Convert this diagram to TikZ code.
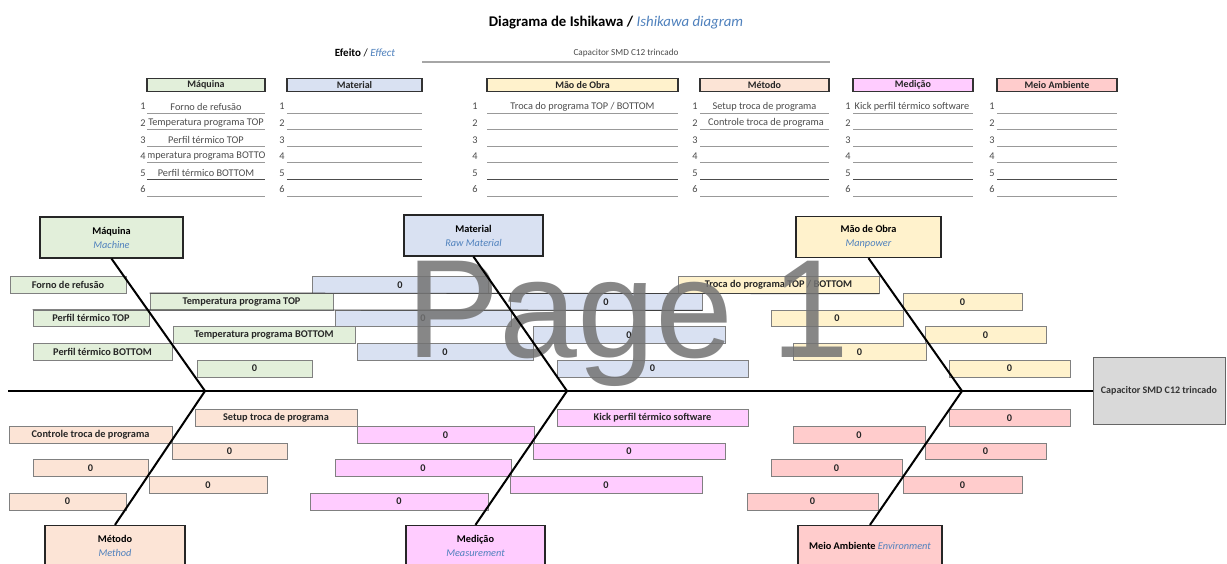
\documentclass[tikz,border=0pt]{standalone}
\usepackage{fontspec}
\setmainfont{Carlito}
\newfontfamily\wmfont{Liberation Sans}
\definecolor{cgreen}{HTML}{E2EFDA}
\definecolor{cblue}{HTML}{D9E1F2}
\definecolor{cyellow}{HTML}{FFF2CC}
\definecolor{cpeach}{HTML}{FCE4D6}
\definecolor{cviolet}{HTML}{FFCCFF}
\definecolor{csalmon}{HTML}{FFCCCC}
\definecolor{chead}{HTML}{D9D9D9}
\definecolor{engblue}{HTML}{4F81BD}
\newcommand\causebox[6]{\node[cause, fill=#2, minimum width={(#4-#3)*1pt}] (#1) at ({(#3+#4)/2},#5) {#6};}
\begin{document}
\begin{tikzpicture}[x=1pt,y=-1pt,
  cause/.style={draw=black!50, line width=0.6pt, inner sep=0pt, minimum height=16.7pt,
    font=\fontsize{10.3}{11}\selectfont\bfseries, text=black!85},
  cat/.style={draw=black!85, line width=1.3pt, inner sep=0pt, minimum height=41pt,
    align=center, font=\fontsize{10.3}{14}\selectfont},
  thead/.style={draw=black!80, line width=1.2pt, inner sep=0pt, minimum height=13pt,
    font=\fontsize{10}{11}\selectfont\bfseries, text=black!85},
  trow/.style={font=\fontsize{10.3}{11}\selectfont, text=black!70, inner sep=0pt},
  longline/.style={draw=black!75, line width=0.9pt},
  bone/.style={line width=2pt, black},
  spineline/.style={line width=2.4pt, black}]
\clip (0,0) rectangle (1227,563);
\fill[white] (0,0) rectangle (1227,563);

% title and effect
\node[font=\fontsize{14.8}{16}\selectfont] (title) at (616,23)
  {\textbf{Diagrama de Ishikawa /} \textcolor{engblue}{\textit{Ishikawa diagram}}};
\node[font=\fontsize{11}{12}\selectfont] (eff) at (365,53)
  {\textbf{Efeito} / \textcolor{engblue}{\textit{Effect}}};
\node[font=\fontsize{9.2}{11}\selectfont, text=black!70] (efftxt) at (626,53) {Capacitor SMD C12 trincado};
\coordinate (ula) at (422,62);
\coordinate (ulb) at (830,62);
\draw[line width=2pt, black!35] (ula) -- (ulb);

% table headers
\node[thead, fill=cgreen, minimum width=118pt] (hm) at (206,85) {Máquina};
\node[thead, fill=cblue, minimum width=135pt] (hb) at (354.5,85) {Material};
\node[thead, fill=cyellow, minimum width=191pt] (ho) at (582.5,85) {Mão de Obra};
\node[thead, fill=cpeach, minimum width=129pt] (ht) at (764.5,85) {Método};
\node[thead, fill=cviolet, minimum width=120pt] (hd) at (913,85) {Medição};
\node[thead, fill=csalmon, minimum width=120pt] (ha) at (1057,85) {Meio Ambiente};

% table rows
\foreach \nx/\xa/\xb [count=\c] in {143/147/265, 282/287/422, 475/487/678, 695/700/829, 848/853/973, 992/997/1117} {
  \foreach \i in {1,...,6} {
    \pgfmathsetmacro\yy{106.5+16.6*(\i-1)}
    \pgfmathsetmacro\lw{\i==5 ? 1.4 : 0.8}
    \pgfmathsetmacro\lc{\i==5 ? 70 : 40}
    \node[trow] (n\c-\i) at (\nx,\yy) {\i};
    \draw[draw=black!\lc, line width=\lw pt] (\xa,\yy+6.5) -- (\xb,\yy+6.5);
  }
}
\node[trow] (rm1) at (206,106.5) {Forno de refusão};
\node[trow] (rm2) at (206,123.1) {Temperatura programa TOP};
\node[trow] (rm3) at (206,139.7) {Perfil térmico TOP};
\begin{scope}
  \clip (148,148) rectangle (265,162.5);
  \node[trow] (rm4) at (206,156.3) {Temperatura programa BOTTOM};
\end{scope}
\node[trow] (rm5) at (206,172.9) {Perfil térmico BOTTOM};
\node[trow] (ro1) at (582.5,106.5) {Troca do programa TOP / BOTTOM};
\node[trow] (rt1) at (764.5,106.5) {Setup troca de programa};
\node[trow] (rt2) at (766,123.1) {Controle troca de programa};
\node[trow] (rd1) at (912,106.5) {Kick perfil térmico software};

% cause boxes: Maquina
\causebox{m1}{cgreen}{10}{126}{285}{Forno de refusão}
\causebox{m2}{cgreen}{150}{333}{301.7}{Temperatura programa TOP}
\causebox{m3}{cgreen}{33}{149}{318.4}{Perfil térmico TOP}
\causebox{m4}{cgreen}{173}{355}{335.1}{Temperatura programa BOTTOM}
\causebox{m5}{cgreen}{33}{172}{351.8}{Perfil térmico BOTTOM}
\causebox{m6}{cgreen}{197}{312}{368.5}{0}
% Material
\causebox{b1}{cblue}{312}{488}{285}{0}
\causebox{b2}{cblue}{510}{702}{301.7}{0}
\causebox{b3}{cblue}{335}{511}{318.4}{0}
\causebox{b4}{cblue}{533}{725}{335.1}{0}
\causebox{b5}{cblue}{357}{533}{351.8}{0}
\causebox{b6}{cblue}{557}{748}{368.5}{0}
% Mao de Obra
\causebox{o1}{cyellow}{678}{879}{285}{Troca do programa TOP / BOTTOM}
\causebox{o2}{cyellow}{903}{1022}{301.7}{0}
\causebox{o3}{cyellow}{771}{903}{318.4}{0}
\causebox{o4}{cyellow}{925}{1046}{335.1}{0}
\causebox{o5}{cyellow}{793}{926}{351.8}{0}
\causebox{o6}{cyellow}{949}{1070}{368.5}{0}
% Metodo
\causebox{t1}{cpeach}{195}{357}{418}{Setup troca de programa}
\causebox{t2}{cpeach}{9}{172}{434.7}{Controle troca de programa}
\causebox{t3}{cpeach}{172}{287}{451.4}{0}
\causebox{t4}{cpeach}{33}{148}{468.1}{0}
\causebox{t5}{cpeach}{149}{267}{484.8}{0}
\causebox{t6}{cpeach}{9}{126}{501.5}{0}
% Medicao
\causebox{d1}{cviolet}{557}{748}{418}{Kick perfil térmico software}
\causebox{d2}{cviolet}{357}{534}{434.7}{0}
\causebox{d3}{cviolet}{533}{725}{451.4}{0}
\causebox{d4}{cviolet}{335}{511}{468.1}{0}
\causebox{d5}{cviolet}{510}{702}{484.8}{0}
\causebox{d6}{cviolet}{310}{488}{501.5}{0}
% Meio Ambiente
\causebox{a1}{csalmon}{949}{1070}{418}{0}
\causebox{a2}{csalmon}{793}{925}{434.7}{0}
\causebox{a3}{csalmon}{925}{1046}{451.4}{0}
\causebox{a4}{csalmon}{771}{902}{468.1}{0}
\causebox{a5}{csalmon}{903}{1022}{484.8}{0}
\causebox{a6}{csalmon}{747}{878}{501.5}{0}

% cell border lines
\draw[longline] (m2.north west) -- (o1.south east);
\draw[longline] (m3.north west) -- (b2.south east);

% watermark
\node[anchor=base west, inner sep=0pt, text=black!55, opacity=0.85,
  font=\wmfont\fontsize{140}{140}\selectfont] (wm) at (406,357) {Page 1};

% category boxes
\node[cat, fill=cgreen, minimum width=143pt] (cm) at (111.5,237.5)
  {\textbf{Máquina}\\\textcolor{engblue}{\textit{Machine}}};
\node[cat, fill=cblue, minimum width=139pt] (cb) at (473.5,235.5)
  {\textbf{Material}\\\textcolor{engblue}{\textit{Raw Material}}};
\node[cat, fill=cyellow, minimum width=145pt] (co) at (868.5,237)
  {\textbf{Mão de Obra}\\\textcolor{engblue}{\textit{Manpower}}};
\node[cat, fill=cpeach, minimum width=140pt] (ct) at (115,546)
  {\textbf{Método}\\\textcolor{engblue}{\textit{Method}}};
\node[cat, fill=cviolet, minimum width=139pt] (cd) at (475.5,546)
  {\textbf{Medição}\\\textcolor{engblue}{\textit{Measurement}}};
\node[cat, fill=csalmon, minimum width=144pt] (ca) at (870,546)
  {\textbf{Meio Ambiente} \textcolor{engblue}{\textit{Environment}}};

% head
\node[draw=black!60, line width=1pt, fill=chead, minimum width=132pt, minimum height=67pt,
  inner sep=0pt, font=\fontsize{10}{11}\selectfont\bfseries, text=black!80] (head) at (1159,391)
  {Capacitor SMD C12 trincado};

% spine and bones
\coordinate (s0) at (8,391);
\coordinate (j1) at (205,391);
\coordinate (j2) at (567,391);
\coordinate (j3) at (962,391);
\draw[spineline] (s0) -- (head.west);
\draw[bone] (cm.south) -- (j1);
\draw[bone] (cb.south) -- (j2);
\draw[bone] (co.south) -- (j3);
\draw[bone] (ct.north) -- (j1);
\draw[bone] (cd.north) -- (j2);
\draw[bone] (ca.north) -- (j3);
\end{tikzpicture}
\end{document}
